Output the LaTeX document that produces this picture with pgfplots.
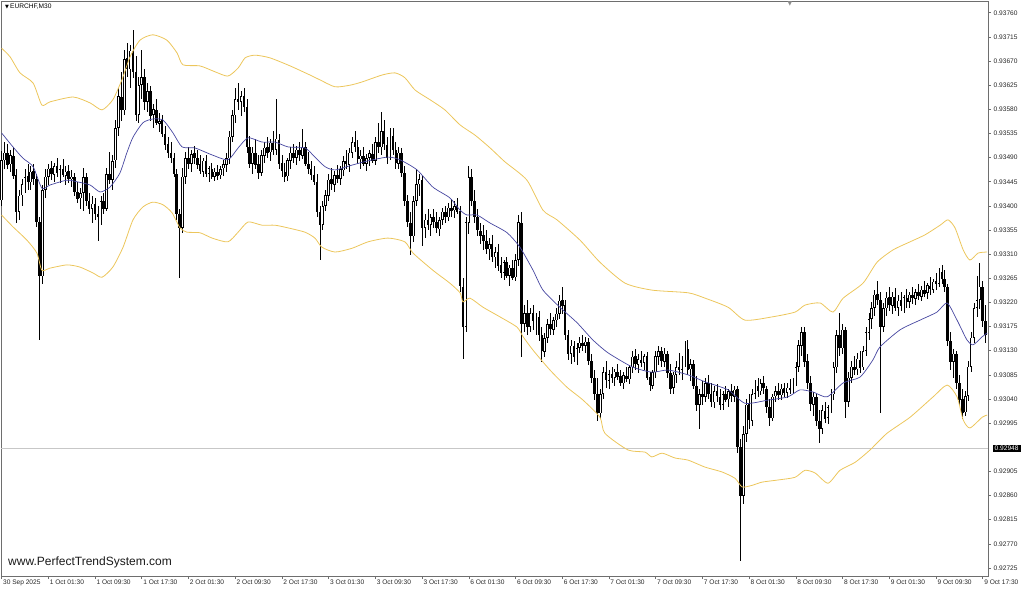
\documentclass[border=0pt]{standalone}
\usepackage{pgfplots}
\usepackage{pgfplotstable}
\pgfplotsset{compat=1.18}
\usepackage{fontspec}
\setmainfont{Liberation Sans}
\newfontfamily\symfont{DejaVu Sans}
\definecolor{band}{RGB}{236,198,92}
\definecolor{ma}{RGB}{70,70,160}
\definecolor{frame}{RGB}{110,110,110}

% EURCHF M30 candles: bar index, open, high, low, close
\pgfplotstableread{
i o h l c
0 0.93411 0.93504 0.93400 0.93486
1 0.93486 0.93520 0.93470 0.93500
2 0.93500 0.93515 0.93470 0.93478
3 0.93478 0.93505 0.93465 0.93495
4 0.93495 0.93510 0.93450 0.93458
5 0.93458 0.93470 0.93370 0.93390
6 0.93390 0.93430 0.93375 0.93420
7 0.93420 0.93450 0.93400 0.93440
8 0.93440 0.93470 0.93425 0.93455
9 0.93455 0.93480 0.93430 0.93445
10 0.93445 0.93475 0.93430 0.93465
11 0.93465 0.93480 0.93440 0.93450
12 0.93450 0.93460 0.93360 0.93370
13 0.93370 0.93380 0.93150 0.93270
14 0.93270 0.93440 0.93255 0.93430
15 0.93430 0.93470 0.93415 0.93455
16 0.93455 0.93480 0.93440 0.93470
17 0.93470 0.93485 0.93450 0.93460
18 0.93460 0.93480 0.93445 0.93475
19 0.93475 0.93490 0.93455 0.93462
20 0.93462 0.93478 0.93445 0.93470
21 0.93470 0.93488 0.93455 0.93458
22 0.93458 0.93475 0.93440 0.93465
23 0.93465 0.93478 0.93445 0.93450
24 0.93450 0.93468 0.93435 0.93455
25 0.93455 0.93462 0.93420 0.93428
26 0.93428 0.93445 0.93405 0.93415
27 0.93415 0.93435 0.93395 0.93425
28 0.93425 0.93470 0.93390 0.93455
29 0.93455 0.93462 0.93400 0.93410
30 0.93410 0.93425 0.93385 0.93395
31 0.93395 0.93420 0.93370 0.93405
32 0.93405 0.93415 0.93375 0.93385
33 0.93385 0.93400 0.93335 0.93380
34 0.93380 0.93420 0.93365 0.93410
35 0.93410 0.93425 0.93385 0.93395
36 0.93395 0.93470 0.93390 0.93460
37 0.93460 0.93500 0.93440 0.93450
38 0.93450 0.93495 0.93430 0.93485
39 0.93485 0.93560 0.93470 0.93545
40 0.93545 0.93620 0.93530 0.93605
41 0.93605 0.93650 0.93560 0.93580
42 0.93580 0.93690 0.93570 0.93675
43 0.93675 0.93705 0.93640 0.93655
44 0.93655 0.93700 0.93620 0.93690
45 0.93690 0.93728 0.93640 0.93650
46 0.93650 0.93680 0.93560 0.93570
47 0.93570 0.93640 0.93555 0.93625
48 0.93625 0.93690 0.93600 0.93640
49 0.93640 0.93655 0.93580 0.93595
50 0.93595 0.93630 0.93575 0.93615
51 0.93615 0.93625 0.93560 0.93570
52 0.93570 0.93590 0.93545 0.93580
53 0.93580 0.93600 0.93550 0.93555
54 0.93555 0.93575 0.93540 0.93560
55 0.93560 0.93570 0.93530 0.93535
56 0.93535 0.93550 0.93505 0.93515
57 0.93515 0.93530 0.93490 0.93500
58 0.93500 0.93520 0.93480 0.93490
59 0.93490 0.93500 0.93455 0.93460
60 0.93460 0.93470 0.93375 0.93385
61 0.93385 0.93395 0.93268 0.93360
62 0.93360 0.93470 0.93350 0.93455
63 0.93455 0.93500 0.93440 0.93490
64 0.93490 0.93510 0.93470 0.93480
65 0.93480 0.93505 0.93465 0.93498
66 0.93498 0.93512 0.93480 0.93490
67 0.93490 0.93505 0.93470 0.93478
68 0.93478 0.93495 0.93460 0.93465
69 0.93465 0.93490 0.93455 0.93485
70 0.93485 0.93495 0.93455 0.93460
71 0.93460 0.93475 0.93445 0.93470
72 0.93470 0.93480 0.93450 0.93455
73 0.93455 0.93472 0.93448 0.93465
74 0.93465 0.93478 0.93450 0.93458
75 0.93458 0.93475 0.93450 0.93470
76 0.93470 0.93485 0.93455 0.93478
77 0.93478 0.93500 0.93465 0.93490
78 0.93490 0.93540 0.93480 0.93530
79 0.93530 0.93580 0.93520 0.93570
80 0.93570 0.93620 0.93555 0.93600
81 0.93600 0.93630 0.93580 0.93595
82 0.93595 0.93615 0.93570 0.93605
83 0.93605 0.93620 0.93575 0.93585
84 0.93585 0.93600 0.93500 0.93510
85 0.93510 0.93530 0.93470 0.93480
86 0.93480 0.93510 0.93460 0.93500
87 0.93500 0.93525 0.93470 0.93478
88 0.93478 0.93495 0.93450 0.93462
89 0.93462 0.93505 0.93455 0.93495
90 0.93495 0.93520 0.93480 0.93510
91 0.93510 0.93530 0.93490 0.93500
92 0.93500 0.93525 0.93485 0.93518
93 0.93518 0.93540 0.93495 0.93505
94 0.93505 0.93600 0.93495 0.93525
95 0.93525 0.93535 0.93470 0.93480
96 0.93480 0.93495 0.93455 0.93465
97 0.93465 0.93480 0.93445 0.93455
98 0.93455 0.93490 0.93448 0.93485
99 0.93485 0.93510 0.93470 0.93500
100 0.93500 0.93515 0.93480 0.93490
101 0.93490 0.93512 0.93478 0.93505
102 0.93505 0.93520 0.93485 0.93495
103 0.93495 0.93545 0.93488 0.93510
104 0.93510 0.93520 0.93475 0.93480
105 0.93480 0.93500 0.93460 0.93470
106 0.93470 0.93485 0.93450 0.93458
107 0.93458 0.93475 0.93440 0.93445
108 0.93445 0.93460 0.93380 0.93390
109 0.93390 0.93400 0.93300 0.93365
110 0.93365 0.93410 0.93355 0.93400
111 0.93400 0.93430 0.93390 0.93420
112 0.93420 0.93460 0.93410 0.93450
113 0.93450 0.93470 0.93430 0.93440
114 0.93440 0.93465 0.93425 0.93458
115 0.93458 0.93478 0.93445 0.93450
116 0.93450 0.93475 0.93440 0.93468
117 0.93468 0.93495 0.93458 0.93485
118 0.93485 0.93505 0.93470 0.93478
119 0.93478 0.93510 0.93465 0.93500
120 0.93500 0.93530 0.93490 0.93520
121 0.93520 0.93540 0.93500 0.93510
122 0.93510 0.93525 0.93480 0.93488
123 0.93488 0.93505 0.93470 0.93495
124 0.93495 0.93510 0.93475 0.93480
125 0.93480 0.93498 0.93465 0.93490
126 0.93490 0.93505 0.93475 0.93498
127 0.93498 0.93515 0.93480 0.93485
128 0.93485 0.93530 0.93478 0.93520
129 0.93520 0.93555 0.93500 0.93510
130 0.93510 0.93575 0.93495 0.93540
131 0.93540 0.93560 0.93505 0.93515
132 0.93515 0.93530 0.93480 0.93490
133 0.93490 0.93545 0.93485 0.93530
134 0.93530 0.93545 0.93495 0.93505
135 0.93505 0.93520 0.93470 0.93480
136 0.93480 0.93510 0.93470 0.93500
137 0.93500 0.93510 0.93455 0.93462
138 0.93462 0.93475 0.93400 0.93410
139 0.93410 0.93420 0.93360 0.93370
140 0.93370 0.93390 0.93310 0.93345
141 0.93345 0.93420 0.93335 0.93410
142 0.93410 0.93470 0.93400 0.93440
143 0.93440 0.93460 0.93420 0.93450
144 0.93450 0.93455 0.93325 0.93360
145 0.93360 0.93385 0.93340 0.93375
146 0.93375 0.93395 0.93355 0.93365
147 0.93365 0.93385 0.93345 0.93380
148 0.93380 0.93395 0.93360 0.93370
149 0.93370 0.93390 0.93350 0.93358
150 0.93358 0.93380 0.93345 0.93375
151 0.93375 0.93398 0.93365 0.93390
152 0.93390 0.93400 0.93370 0.93380
153 0.93380 0.93405 0.93372 0.93398
154 0.93398 0.93412 0.93380 0.93392
155 0.93392 0.93410 0.93378 0.93400
156 0.93400 0.93415 0.93385 0.93390
157 0.93390 0.93400 0.93240 0.93250
158 0.93250 0.93265 0.93115 0.93175
159 0.93175 0.93380 0.93165 0.93370
160 0.93370 0.93475 0.93350 0.93455
161 0.93455 0.93470 0.93400 0.93410
162 0.93410 0.93430 0.93370 0.93380
163 0.93380 0.93395 0.93345 0.93355
164 0.93355 0.93370 0.93330 0.93345
165 0.93345 0.93365 0.93320 0.93335
166 0.93335 0.93355 0.93310 0.93320
167 0.93320 0.93340 0.93300 0.93330
168 0.93330 0.93345 0.93295 0.93305
169 0.93305 0.93325 0.93285 0.93315
170 0.93315 0.93330 0.93280 0.93290
171 0.93290 0.93305 0.93265 0.93275
172 0.93275 0.93300 0.93262 0.93295
173 0.93295 0.93305 0.93265 0.93270
174 0.93270 0.93290 0.93250 0.93285
175 0.93285 0.93300 0.93262 0.93268
176 0.93268 0.93310 0.93260 0.93300
177 0.93300 0.93385 0.93290 0.93370
178 0.93370 0.93390 0.93120 0.93180
179 0.93180 0.93215 0.93165 0.93200
180 0.93200 0.93225 0.93160 0.93175
181 0.93175 0.93210 0.93165 0.93200
182 0.93200 0.93215 0.93170 0.93185
183 0.93185 0.93200 0.93160 0.93195
184 0.93195 0.93205 0.93150 0.93160
185 0.93160 0.93175 0.93110 0.93130
186 0.93130 0.93165 0.93120 0.93155
187 0.93155 0.93190 0.93145 0.93180
188 0.93180 0.93200 0.93160 0.93170
189 0.93170 0.93195 0.93160 0.93188
190 0.93188 0.93210 0.93175 0.93200
191 0.93200 0.93235 0.93190 0.93225
192 0.93225 0.93250 0.93200 0.93215
193 0.93215 0.93225 0.93150 0.93160
194 0.93160 0.93170 0.93115 0.93125
195 0.93125 0.93150 0.93105 0.93140
196 0.93140 0.93150 0.93110 0.93120
197 0.93120 0.93145 0.93105 0.93135
198 0.93135 0.93155 0.93125 0.93145
199 0.93145 0.93160 0.93130 0.93140
200 0.93140 0.93155 0.93125 0.93148
201 0.93148 0.93155 0.93105 0.93112
202 0.93112 0.93125 0.93070 0.93080
203 0.93080 0.93095 0.93040 0.93050
204 0.93050 0.93080 0.93000 0.93015
205 0.93015 0.93060 0.93005 0.93050
206 0.93050 0.93100 0.93040 0.93090
207 0.93090 0.93110 0.93060 0.93075
208 0.93075 0.93095 0.93060 0.93088
209 0.93088 0.93100 0.93070 0.93080
210 0.93080 0.93098 0.93065 0.93092
211 0.93092 0.93105 0.93075 0.93082
212 0.93082 0.93095 0.93065 0.93070
213 0.93070 0.93090 0.93058 0.93085
214 0.93085 0.93100 0.93072 0.93078
215 0.93078 0.93105 0.93070 0.93100
216 0.93100 0.93130 0.93090 0.93120
217 0.93120 0.93135 0.93095 0.93105
218 0.93105 0.93125 0.93090 0.93115
219 0.93115 0.93130 0.93100 0.93108
220 0.93108 0.93125 0.93095 0.93120
221 0.93120 0.93128 0.93075 0.93080
222 0.93080 0.93090 0.93055 0.93065
223 0.93065 0.93095 0.93060 0.93090
224 0.93090 0.93130 0.93080 0.93120
225 0.93120 0.93140 0.93105 0.93130
226 0.93130 0.93138 0.93100 0.93110
227 0.93110 0.93135 0.93100 0.93125
228 0.93125 0.93130 0.93080 0.93090
229 0.93090 0.93105 0.93050 0.93060
230 0.93060 0.93090 0.93050 0.93085
231 0.93085 0.93110 0.93070 0.93100
232 0.93100 0.93125 0.93085 0.93095
233 0.93095 0.93120 0.93075 0.93110
234 0.93110 0.93150 0.93100 0.93135
235 0.93135 0.93150 0.93085 0.93095
236 0.93095 0.93115 0.93075 0.93105
237 0.93105 0.93115 0.93060 0.93065
238 0.93065 0.93085 0.93020 0.93030
239 0.93030 0.93060 0.92985 0.93050
240 0.93050 0.93075 0.93030 0.93045
241 0.93045 0.93080 0.93035 0.93070
242 0.93070 0.93085 0.93040 0.93050
243 0.93050 0.93070 0.93025 0.93035
244 0.93035 0.93065 0.93025 0.93055
245 0.93055 0.93070 0.93035 0.93045
246 0.93045 0.93060 0.93020 0.93030
247 0.93030 0.93055 0.93020 0.93050
248 0.93050 0.93065 0.93035 0.93040
249 0.93040 0.93060 0.93025 0.93055
250 0.93055 0.93068 0.93035 0.93045
251 0.93045 0.93065 0.93035 0.93058
252 0.93058 0.93065 0.92940 0.92950
253 0.92950 0.92965 0.92738 0.92860
254 0.92860 0.92990 0.92845 0.92975
255 0.92975 0.93040 0.92960 0.93030
256 0.93030 0.93050 0.92985 0.93000
257 0.93000 0.93060 0.92990 0.93050
258 0.93050 0.93075 0.93040 0.93065
259 0.93065 0.93080 0.93045 0.93055
260 0.93055 0.93078 0.93048 0.93070
261 0.93070 0.93085 0.93050 0.93060
262 0.93060 0.93065 0.93015 0.93025
263 0.93025 0.93040 0.92990 0.93005
264 0.93005 0.93050 0.93000 0.93045
265 0.93045 0.93065 0.93035 0.93055
266 0.93055 0.93070 0.93040 0.93048
267 0.93048 0.93068 0.93038 0.93060
268 0.93060 0.93072 0.93045 0.93052
269 0.93052 0.93070 0.93042 0.93062
270 0.93062 0.93078 0.93050 0.93058
271 0.93058 0.93080 0.93050 0.93072
272 0.93072 0.93110 0.93065 0.93100
273 0.93100 0.93150 0.93090 0.93140
274 0.93140 0.93175 0.93120 0.93165
275 0.93165 0.93175 0.93100 0.93110
276 0.93110 0.93125 0.93060 0.93070
277 0.93070 0.93085 0.93020 0.93030
278 0.93030 0.93055 0.93010 0.93045
279 0.93045 0.93050 0.92990 0.93000
280 0.93000 0.93020 0.92958 0.92985
281 0.92985 0.93030 0.92975 0.93020
282 0.93020 0.93035 0.92995 0.93005
283 0.93005 0.93030 0.92995 0.93025
284 0.93025 0.93060 0.93015 0.93050
285 0.93050 0.93110 0.93040 0.93100
286 0.93100 0.93170 0.93090 0.93160
287 0.93160 0.93200 0.93120 0.93135
288 0.93135 0.93180 0.93125 0.93170
289 0.93170 0.93175 0.93005 0.93035
290 0.93035 0.93090 0.93025 0.93080
291 0.93080 0.93110 0.93070 0.93100
292 0.93100 0.93120 0.93085 0.93095
293 0.93095 0.93125 0.93085 0.93115
294 0.93115 0.93130 0.93090 0.93100
295 0.93100 0.93140 0.93095 0.93130
296 0.93130 0.93175 0.93120 0.93165
297 0.93165 0.93200 0.93150 0.93190
298 0.93190 0.93220 0.93170 0.93210
299 0.93210 0.93245 0.93195 0.93235
300 0.93235 0.93260 0.93215 0.93225
301 0.93225 0.93240 0.93015 0.93175
302 0.93175 0.93220 0.93165 0.93210
303 0.93210 0.93240 0.93195 0.93230
304 0.93230 0.93250 0.93205 0.93215
305 0.93215 0.93240 0.93200 0.93232
306 0.93232 0.93248 0.93205 0.93212
307 0.93212 0.93235 0.93195 0.93225
308 0.93225 0.93240 0.93205 0.93215
309 0.93215 0.93235 0.93200 0.93230
310 0.93230 0.93245 0.93210 0.93222
311 0.93222 0.93240 0.93210 0.93235
312 0.93235 0.93250 0.93218 0.93228
313 0.93228 0.93245 0.93215 0.93240
314 0.93240 0.93255 0.93225 0.93232
315 0.93232 0.93250 0.93222 0.93245
316 0.93245 0.93260 0.93230 0.93238
317 0.93238 0.93258 0.93228 0.93252
318 0.93252 0.93268 0.93235 0.93245
319 0.93245 0.93265 0.93238 0.93260
320 0.93260 0.93275 0.93245 0.93255
321 0.93255 0.93285 0.93250 0.93278
322 0.93278 0.93290 0.93255 0.93265
323 0.93265 0.93282 0.93240 0.93250
324 0.93250 0.93255 0.93140 0.93150
325 0.93150 0.93165 0.93095 0.93110
326 0.93110 0.93135 0.93080 0.93125
327 0.93125 0.93130 0.93060 0.93070
328 0.93070 0.93085 0.93030 0.93040
329 0.93040 0.93060 0.93005 0.93015
330 0.93015 0.93055 0.93008 0.93045
331 0.93045 0.93110 0.93035 0.93100
332 0.93100 0.93165 0.93090 0.93155
333 0.93155 0.93220 0.93145 0.93210
334 0.93210 0.93270 0.93195 0.93225
335 0.93225 0.93295 0.93210 0.93250
336 0.93250 0.93260 0.93175 0.93185
337 0.93185 0.93215 0.93145 0.93160
}\candles

% Bollinger bands (upper, middle, lower), read at bar positions
\pgfplotstableread{
i p
0 0.93694
2.9 0.93678
6.3 0.93648
10.8 0.93629
13.8 0.93588
16.6 0.93594
24.5 0.93603
30.3 0.93592
34.4 0.93579
38.1 0.93598
41.2 0.93635
44.0 0.93678
47.4 0.93709
51.8 0.93719
56.6 0.93709
60.1 0.93685
62.1 0.93663
67.9 0.93661
73.1 0.93650
77.5 0.93642
81.0 0.93657
83.4 0.93676
86.8 0.93681
91.9 0.93676
98.8 0.93661
105.6 0.93644
109.0 0.93635
114.2 0.93622
119.3 0.93625
123.4 0.93631
130.3 0.93644
134.7 0.93648
138.1 0.93639
141.6 0.93616
146.7 0.93598
151.8 0.93579
157.0 0.93551
162.1 0.93532
167.3 0.93508
172.4 0.93482
179.9 0.93448
185.4 0.93392
190.2 0.93374
198.1 0.93336
204.9 0.93295
213.5 0.93256
222.7 0.93243
235.1 0.93238
240.9 0.93228
248.8 0.93211
254.6 0.93187
263.8 0.93193
271.7 0.93202
275.1 0.93215
280.3 0.93219
284.7 0.93202
288.2 0.93228
295.0 0.93256
299.8 0.93295
305.3 0.93318
311.1 0.93333
316.2 0.93346
321.4 0.93364
324.1 0.93374
326.5 0.93359
329.3 0.93318
331.6 0.93299
334.4 0.93312
337.5 0.93314
}\bandup

\pgfplotstableread{
i p
0 0.93536
3.9 0.93510
7.3 0.93489
10.8 0.93473
13.8 0.93433
16.6 0.93439
22.4 0.93448
25.8 0.93445
30.3 0.93439
33.7 0.93426
37.1 0.93435
40.5 0.93461
42.9 0.93499
45.0 0.93528
48.4 0.93555
51.8 0.93562
55.3 0.93560
58.7 0.93536
61.8 0.93510
66.2 0.93508
72.1 0.93495
77.5 0.93486
81.0 0.93508
84.4 0.93527
89.2 0.93519
93.6 0.93519
98.1 0.93510
103.9 0.93508
107.3 0.93491
110.8 0.93473
114.2 0.93467
120.0 0.93476
125.5 0.93484
132.3 0.93491
136.4 0.93486
142.3 0.93467
147.7 0.93435
153.5 0.93415
157.0 0.93392
159.4 0.93383
162.8 0.93383
167.3 0.93368
173.1 0.93350
177.5 0.93323
182.0 0.93280
185.4 0.93243
191.2 0.93211
197.1 0.93182
202.5 0.93150
207.7 0.93126
215.9 0.93100
222.7 0.93090
228.2 0.93094
235.1 0.93085
240.9 0.93072
248.8 0.93057
254.6 0.93032
262.5 0.93038
269.3 0.93044
273.4 0.93057
277.9 0.93053
282.7 0.93044
288.2 0.93070
294.0 0.93081
298.4 0.93113
300.8 0.93137
307.7 0.93169
314.5 0.93187
320.3 0.93202
323.8 0.93219
327.2 0.93187
330.6 0.93150
332.7 0.93141
335.8 0.93156
337.5 0.93163
}\bandmid

\pgfplotstableread{
i p
0 0.93383
3.9 0.93361
8.7 0.93336
12.1 0.93312
13.8 0.93280
16.6 0.93284
22.4 0.93290
26.8 0.93286
31.3 0.93275
34.4 0.93267
38.1 0.93286
41.6 0.93323
45.0 0.93374
48.4 0.93398
51.8 0.93407
55.3 0.93402
58.4 0.93387
61.1 0.93359
63.5 0.93351
67.9 0.93350
72.1 0.93340
77.5 0.93333
81.0 0.93351
84.4 0.93370
89.2 0.93364
93.6 0.93364
98.1 0.93359
103.9 0.93351
107.3 0.93340
109.7 0.93323
114.2 0.93314
120.0 0.93321
125.5 0.93333
132.3 0.93340
138.1 0.93333
140.9 0.93312
147.7 0.93280
153.5 0.93256
157.0 0.93238
158.0 0.93221
160.4 0.93228
164.9 0.93211
170.7 0.93193
176.5 0.93174
178.6 0.93156
182.0 0.93131
187.8 0.93094
193.6 0.93062
199.1 0.93038
204.9 0.93006
206.6 0.92976
214.5 0.92945
220.3 0.92941
222.7 0.92932
226.2 0.92939
230.6 0.92930
235.1 0.92926
240.9 0.92913
246.7 0.92904
251.2 0.92892
253.6 0.92876
257.0 0.92879
260.4 0.92885
265.9 0.92889
271.7 0.92894
275.1 0.92907
278.6 0.92902
283.0 0.92883
287.1 0.92907
292.3 0.92922
297.4 0.92945
303.2 0.92976
311.1 0.93006
319.0 0.93044
323.8 0.93066
327.2 0.93044
329.3 0.93001
331.6 0.92986
335.8 0.93006
337.5 0.93010
}\banddn

\begin{document}
\begin{tikzpicture}
\useasboundingbox (0,0) rectangle (1024pt,592pt);
\begin{axis}[
    at={(1pt,16pt)}, anchor=south west,
    width=987pt, height=575pt, scale only axis,
    xmin=-0.2, xmax=337.8,
    ymin=0.92710, ymax=0.93782,
    clip=false,
    axis line style={draw=frame, line width=0.7pt},
    xtick={0,16,...,336}, xtick pos=bottom,
    xticklabels={30 Sep 2025, 1 Oct 01:30, 1 Oct 09:30, 1 Oct 17:30,
        2 Oct 01:30, 2 Oct 09:30, 2 Oct 17:30, 3 Oct 01:30, 3 Oct 09:30,
        3 Oct 17:30, 6 Oct 01:30, 6 Oct 09:30, 6 Oct 17:30, 7 Oct 01:30,
        7 Oct 09:30, 7 Oct 17:30, 8 Oct 01:30, 8 Oct 09:30, 8 Oct 17:30,
        9 Oct 01:30, 9 Oct 09:30, 9 Oct 17:30},
    ytick={0.92725,0.92770,0.92815,0.92860,0.92905,0.92995,0.93040,
        0.93085,0.93130,0.93175,0.93220,0.93265,0.93310,0.93355,0.93400,
        0.93445,0.93490,0.93535,0.93580,0.93625,0.93670,0.93715,0.93760},
    ytick pos=right, yticklabel pos=right,
    tick align=outside, major tick length=3pt,
    tick style={draw=frame, line width=0.6pt},
    scaled y ticks=false,
    tick label style={font=\fontsize{6.6}{7}\selectfont, text=black!85},
    yticklabel style={anchor=west, inner sep=1pt, xshift=1.5pt,
        /pgf/number format/fixed, /pgf/number format/fixed zerofill,
        /pgf/number format/precision=5,
        /pgf/number format/assume math mode=true},
    xticklabel style={anchor=north west, inner sep=1pt, xshift=0.3pt},
]

% horizontal line
\addplot[black!22, line width=0.6pt, forget plot]
    coordinates {(-0.2,0.92948) (337.8,0.92948)};

% wicks
\addplot[draw=none, mark=none, forget plot,
    error bars/.cd, y dir=both, y explicit, error mark=none,
    error bar style={draw=black, line width=0.7pt}]
    table[x=i, y expr={(\thisrow{h}+\thisrow{l})/2},
        y error expr={(\thisrow{h}-\thisrow{l})/2}] {\candles};

% bear bodies
\addplot[draw=none, mark=none, forget plot,
    error bars/.cd, y dir=both, y explicit, error mark=none,
    error bar style={draw=black, line width=2.6pt}]
    table[x=i, y expr={(\thisrow{o}+\thisrow{c})/2},
        y error expr={(\thisrow{c}<\thisrow{o})*max(abs(\thisrow{o}-\thisrow{c})/2,0.000008)}] {\candles};

% bull bodies: outline
\addplot[draw=none, mark=none, forget plot,
    error bars/.cd, y dir=both, y explicit, error mark=none,
    error bar style={draw=black, line width=2.6pt}]
    table[x=i, y expr={(\thisrow{o}+\thisrow{c})/2},
        y error expr={(1-(\thisrow{c}<\thisrow{o}))*max(abs(\thisrow{o}-\thisrow{c})/2,0.000008)}] {\candles};

% bull bodies: hollow inside
\addplot[draw=none, mark=none, forget plot,
    error bars/.cd, y dir=both, y explicit, error mark=none,
    error bar style={draw=white, line width=1.0pt}]
    table[x=i, y expr={(\thisrow{o}+\thisrow{c})/2},
        y error expr={(\thisrow{c}>\thisrow{o})*max(abs(\thisrow{c}-\thisrow{o})/2-0.000012,0)}] {\candles};

% bands
\addplot[band, line width=0.8pt, smooth, tension=0.4, mark=none] table[x=i, y=p] {\bandup};
\addplot[band, line width=0.8pt, smooth, tension=0.4, mark=none] table[x=i, y=p] {\banddn};
\addplot[ma, line width=0.7pt, smooth, tension=0.4, mark=none] table[x=i, y=p] {\bandmid};

% labels
\node[anchor=west, fill=black, text=white, inner xsep=2pt, inner ysep=1pt,
    font=\fontsize{6.6}{7}\selectfont] at (axis cs:337.8,0.92948) [xshift=4.5pt] {0.92948};
\node[anchor=north west, inner sep=0pt, font=\fontsize{6.6}{7}\selectfont]
    at (rel axis cs:0,1) [xshift=4pt, yshift=-3pt]
    {{\symfont\fontsize{5}{5}\selectfont ▼}\,EURCHF,M30};
\node[anchor=north, inner sep=0pt, text=black!45, font=\symfont\fontsize{6}{6}\selectfont]
    at (rel axis cs:0.7994,1) {▼};
\node[anchor=base west, inner sep=0pt, text=black!90, font=\fontsize{12}{14}\selectfont]
    at (rel axis cs:0.0071,0.019) {www.PerfectTrendSystem.com};
\end{axis}
\end{tikzpicture}
\end{document}
